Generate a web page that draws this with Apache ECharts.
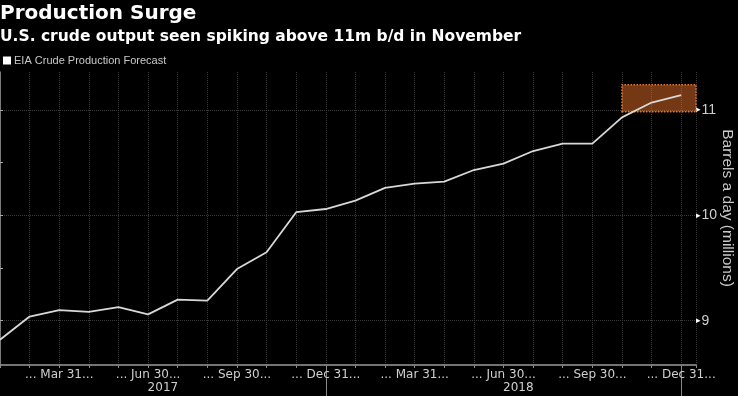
<!DOCTYPE html>
<html>
<head>
<meta charset="utf-8">
<script src="https://cdn.jsdelivr.net/npm/echarts@6/dist/echarts.min.js"></script>
<style>
  html, body { margin: 0; padding: 0; background: #000; }
  #chart { width: 738px; height: 396px; }
</style>
</head>
<body>
<div id="chart"></div>
<script>
// ---- data ----
const months = ['Jan 2017','Feb 2017','Mar 2017','Apr 2017','May 2017','Jun 2017','Jul 2017','Aug 2017','Sep 2017','Oct 2017','Nov 2017','Dec 2017',
                'Jan 2018','Feb 2018','Mar 2018','Apr 2018','May 2018','Jun 2018','Jul 2018','Aug 2018','Sep 2018','Oct 2018','Nov 2018','Dec 2018'];
const production = [8.82, 9.04, 9.10, 9.085, 9.13, 9.06, 9.20, 9.19, 9.49, 9.65, 10.03, 10.06,
                    10.14, 10.26, 10.30, 10.32, 10.43, 10.49, 10.61, 10.68, 10.68, 10.93, 11.07, 11.14];
const quarterTickIndex = [2, 5, 8, 11, 14, 17, 20, 23];
const quarterLabels = ['... Mar 31...', '... Jun 30...', '... Sep 30...', '... Dec 31...', '... Mar 31...', '... Jun 30...', '... Sep 30...', '... Dec 31...'];
const yearLabelPos = [5.5, 17.5];
const yearLabels = ['2017', '2018'];
const yearSeparators = [11, 23];
const yTicks = [9, 9.5, 10, 10.5, 11];
const highlightX = [21, 23.5];
const highlightY = [10.984, 11.24];
const seriesName = 'EIA Crude Production Forecast';
const yAxisTitle = 'Barrels a day (millions)';

const chart = echarts.init(document.getElementById('chart'), null, { renderer: 'canvas' });

const option = {
  backgroundColor: '#000',
  animation: false,
  title: {
    text: 'Production Surge',
    subtext: 'U.S. crude output seen spiking above 11m b/d in November',
    left: 0, top: 3, padding: 0, itemGap: 3,
    textStyle: { fontFamily: 'DejaVu Sans', fontWeight: 'bold', fontSize: 20, color: '#fff', lineHeight: 22 },
    subtextStyle: { fontFamily: 'DejaVu Sans', fontWeight: 'bold', fontSize: 15.5, color: '#fff', lineHeight: 17 }
  },
  legend: {
    data: [seriesName],
    left: 3, top: 55, padding: 0,
    icon: 'rect', itemWidth: 8, itemHeight: 8,
    itemStyle: { color: '#fff' },
    textStyle: { fontFamily: 'Liberation Sans', fontSize: 11, color: '#c8c8c8', padding: [0, 0, 0, -2] }
  },
  graphic: [{
    type: 'text', x: 727, y: 208, rotation: -Math.PI / 2, silent: true,
    style: { text: yAxisTitle, fontFamily: 'Liberation Sans', fontSize: 15.5, fill: '#c8c8c8', align: 'center', verticalAlign: 'middle' }
  }],
  grid: { left: 0, right: 42, top: 72, bottom: 31, containLabel: false, outerBoundsMode: 'none' },
  xAxis: [
    {
      type: 'value', min: 0, max: 23.5, interval: 1,
      axisLine: { show: true, onZero: false, lineStyle: { color: '#9a9a9a', width: 1.5 } },
      axisTick: { show: true, length: 3, lineStyle: { color: '#888' } },
      splitLine: { show: true, lineStyle: { color: '#3a3a3a', type: 'dotted', width: 1 } },
      axisLabel: {
        customValues: quarterTickIndex,
        margin: 4,
        fontFamily: 'DejaVu Sans', fontSize: 12, color: '#cfcfcf',
        formatter: function (v) { const i = quarterTickIndex.indexOf(Math.round(v)); return i >= 0 ? quarterLabels[i] : ''; }
      }
    },
    {
      type: 'value', min: 0, max: 23.5, position: 'bottom',
      axisLine: { show: false },
      axisTick: { show: true, customValues: yearSeparators, length: 31, lineStyle: { color: '#888' } },
      splitLine: { show: false },
      axisLabel: {
        customValues: yearLabelPos,
        margin: 17,
        fontFamily: 'DejaVu Sans', fontSize: 12, color: '#cfcfcf',
        formatter: function (v) { const i = yearLabelPos.indexOf(v); return i >= 0 ? yearLabels[i] : ''; }
      }
    }
  ],
  yAxis: {
    type: 'value', position: 'right', min: 8.58, max: 11.36,
    axisLine: { show: true, lineStyle: { color: '#9a9a9a', width: 1.5 } },
    axisTick: { show: true, customValues: yTicks, length: 3, inside: false, lineStyle: { color: '#aaa' } },
    splitLine: { show: true, lineStyle: { color: ['#3a3a3a', 'transparent'], type: 'dotted', width: 1 } },
    axisLabel: {
      customValues: [9, 10, 11], margin: 0,
      formatter: function (v) { return '{t|▸}{v|' + v + '}'; },
      rich: {
        t: { fontFamily: 'DejaVu Sans', fontSize: 9, color: '#fff', padding: [0, 1, 0, 0] },
        v: { fontFamily: 'Liberation Sans', fontSize: 14, color: '#cfcfcf' }
      }
    }
  },
  series: [
    {
      name: seriesName, type: 'line', xAxisIndex: 0,
      data: production.map(function (v, i) { return [i, v]; }),
      showSymbol: false, symbol: 'none',
      lineStyle: { color: '#d8d8d8', width: 1.8 },
      itemStyle: { color: '#fff' },
      z: 2
    },
    {
      name: 'highlight', type: 'line', xAxisIndex: 0, data: [], z: 5,
      markArea: {
        silent: true,
        itemStyle: { color: 'rgba(232,112,40,0.5)', borderColor: '#e8752c', borderType: 'dotted', borderWidth: 1.5 },
        data: [[{ xAxis: highlightX[0], yAxis: highlightY[0] }, { xAxis: highlightX[1], yAxis: highlightY[1] }]]
      }
    }
  ]
};
chart.setOption(option);
</script>
</body>
</html>
